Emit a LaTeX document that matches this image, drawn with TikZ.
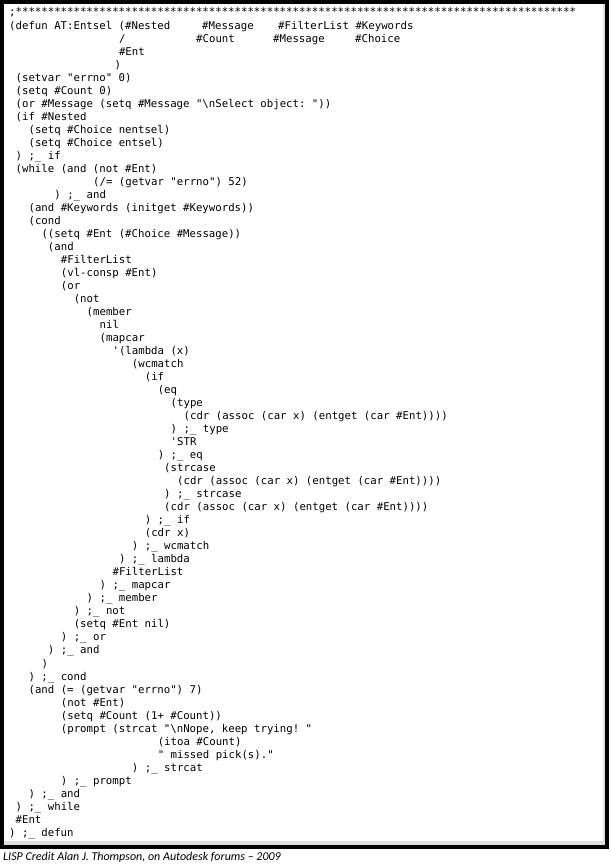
\documentclass[tikz,border=0pt]{standalone}
\usepackage{fontspec}
\setmonofont{DejaVu Sans Mono}
\newfontfamily\capfont{Carlito}
\usetikzlibrary{positioning}

\tikzset{
  code/.style={anchor=base west, inner sep=0pt, font=\ttfamily\fontsize{10.7}{13}\selectfont},
  frame/.style={draw=black, line width=4pt},
  caption/.style={anchor=base west, inner sep=0pt, font=\capfont\itshape\fontsize{12}{14}\selectfont}
}
% one line of the listing: line number, column, text
\newcommand{\codeline}[3]{\node[code] (l#1) at ({9+6.46*#2},{-(16+13.02*(#1-1))}) {#3};}
\newcommand{\codeword}[4]{\node[code] (l#1#2) at (#3,{-(16+13.02*(#1-1))}) {#4};}

\begin{document}
\begin{tikzpicture}[x=1pt,y=1pt]
\useasboundingbox (0,0) rectangle (610,-864);
\fill[gray!25] (2,-841) rectangle (606,-845);
\fill[gray!25] (603,-2) rectangle (606,-845);
\draw[frame] (2,-2) rectangle (607,-847);

\codeline{1}{0}{;***************************************************************************************}
\codeline{2}{0}{(defun AT:Entsel (\#Nested}
\codeword{2}{b}{202}{\#Message}
\codeword{2}{c}{278}{\#FilterList \#Keywords}
\codeword{3}{a}{119}{/}
\codeword{3}{b}{196}{\#Count}
\codeword{3}{c}{273}{\#Message}
\codeword{3}{d}{355}{\#Choice}
\codeline{4}{17}{\#Ent}
\codeline{5}{16.3}{)}
\codeline{6}{1}{(setvar "errno" 0)}
\codeline{7}{1}{(setq \#Count 0)}
\codeline{8}{1}{(or \#Message (setq \#Message "\textbackslash nSelect object: "))}
\codeline{9}{1}{(if \#Nested}
\codeline{10}{3}{(setq \#Choice nentsel)}
\codeline{11}{3}{(setq \#Choice entsel)}
\codeline{12}{1}{) ;\_ if}
\codeline{13}{1}{(while (and (not \#Ent)}
\codeline{14}{13}{(/= (getvar "errno") 52)}
\codeline{15}{7}{) ;\_ and}
\codeline{16}{3}{(and \#Keywords (initget \#Keywords))}
\codeline{17}{3}{(cond}
\codeline{18}{5}{((setq \#Ent (\#Choice \#Message))}
\codeline{19}{6}{(and}
\codeline{20}{8}{\#FilterList}
\codeline{21}{8}{(vl-consp \#Ent)}
\codeline{22}{8}{(or}
\codeline{23}{10}{(not}
\codeline{24}{12}{(member}
\codeline{25}{14}{nil}
\codeline{26}{14}{(mapcar}
\codeline{27}{16}{'(lambda (x)}
\codeline{28}{19}{(wcmatch}
\codeline{29}{21}{(if}
\codeline{30}{23}{(eq}
\codeline{31}{25}{(type}
\codeline{32}{27}{(cdr (assoc (car x) (entget (car \#Ent))))}
\codeline{33}{25}{) ;\_ type}
\codeline{34}{25}{'STR}
\codeline{35}{23}{) ;\_ eq}
\codeline{36}{24}{(strcase}
\codeline{37}{26}{(cdr (assoc (car x) (entget (car \#Ent))))}
\codeline{38}{24}{) ;\_ strcase}
\codeline{39}{24}{(cdr (assoc (car x) (entget (car \#Ent))))}
\codeline{40}{21}{) ;\_ if}
\codeline{41}{21}{(cdr x)}
\codeline{42}{19}{) ;\_ wcmatch}
\codeline{43}{17}{) ;\_ lambda}
\codeline{44}{16}{\#FilterList}
\codeline{45}{14}{) ;\_ mapcar}
\codeline{46}{12}{) ;\_ member}
\codeline{47}{10}{) ;\_ not}
\codeline{48}{10}{(setq \#Ent nil)}
\codeline{49}{8}{) ;\_ or}
\codeline{50}{6}{) ;\_ and}
\codeline{51}{5}{)}
\codeline{52}{3}{) ;\_ cond}
\codeline{53}{3}{(and (= (getvar "errno") 7)}
\codeline{54}{8}{(not \#Ent)}
\codeline{55}{8}{(setq \#Count (1+ \#Count))}
\codeline{56}{8}{(prompt (strcat "\textbackslash nNope, keep trying!  "}
\codeline{57}{23}{(itoa \#Count)}
\codeline{58}{23}{" missed pick(s)."}
\codeline{59}{19}{) ;\_ strcat}
\codeline{60}{8}{) ;\_ prompt}
\codeline{61}{3}{) ;\_ and}
\codeline{62}{1}{) ;\_ while}
\codeline{63}{1}{\#Ent}
\codeline{64}{0}{) ;\_ defun}

\node[caption] (credit) at (3,-860) {LISP Credit Alan J. Thompson, on Autodesk forums – 2009};
\end{tikzpicture}
\end{document}
